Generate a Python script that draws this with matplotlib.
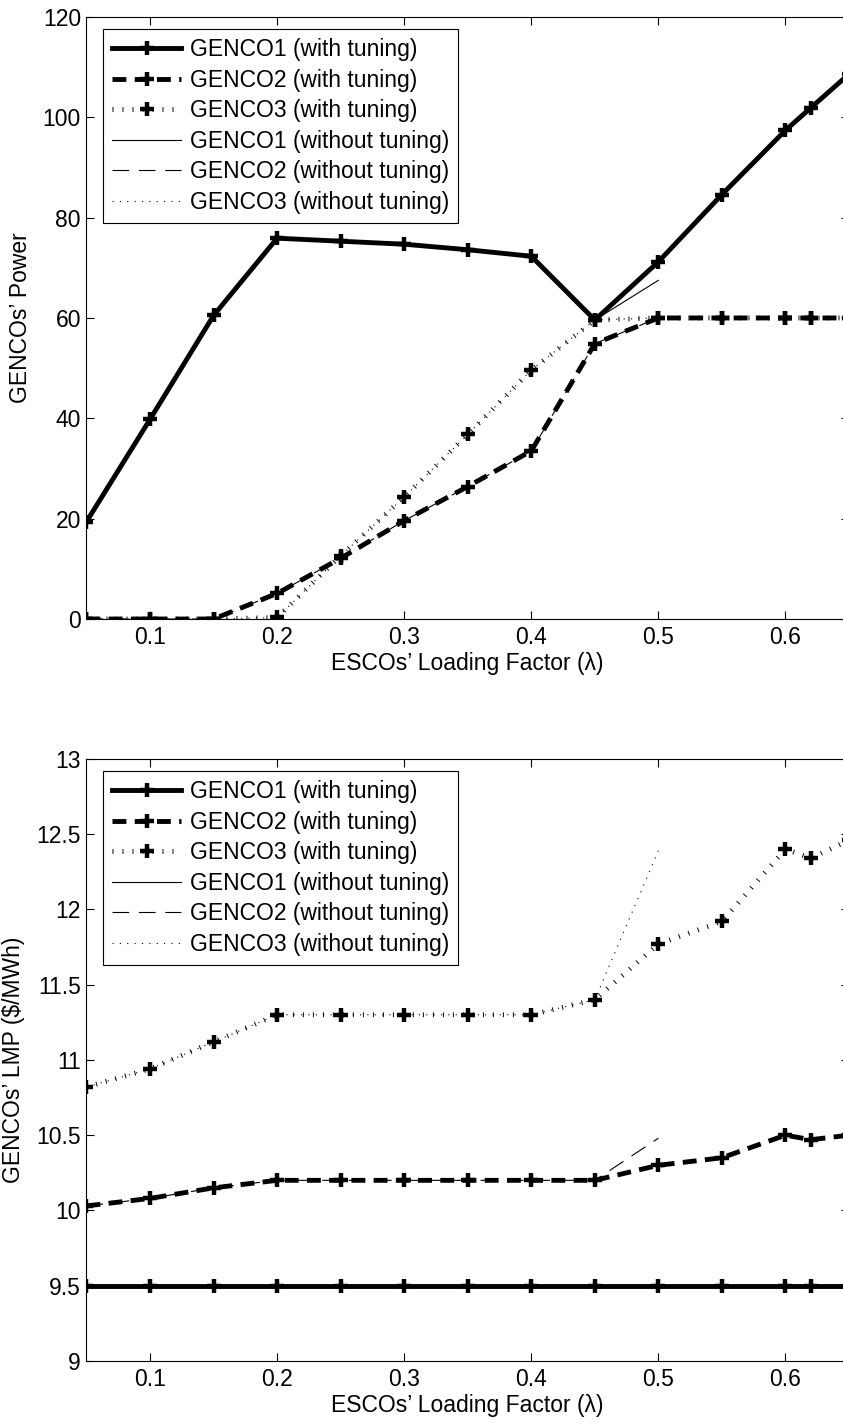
import numpy as np
import matplotlib
matplotlib.use("Agg")
import matplotlib.pyplot as plt
from matplotlib.ticker import FormatStrFormatter

plt.rcParams['font.family'] = ['Liberation Sans', 'DejaVu Sans']
plt.rcParams['font.size'] = 16.5
plt.rcParams['lines.scale_dashes'] = False

# loading factor (with tuning goes further than without tuning)
lam = [0.05, 0.1, 0.15, 0.2, 0.25, 0.3, 0.35, 0.4, 0.45, 0.5, 0.55, 0.6, 0.62, 0.65]
lam_wo = [0.05, 0.1, 0.15, 0.2, 0.25, 0.3, 0.35, 0.4, 0.45, 0.5]

# GENCOs' power, with tuning
p1 = [19.4, 39.8, 60.5, 75.9, 75.3, 74.7, 73.6, 72.3, 59.6, 71.2, 84.6, 97.4, 101.9, 108.6]
p2 = [0, 0, 0, 5.1, 12.1, 19.6, 26.4, 33.5, 54.9, 60, 60, 60, 60, 60]
p3 = [0, 0, 0, 0.3, 12.6, 24.3, 36.8, 49.6, 59.6, 60, 60, 60, 60, 60]
# GENCOs' power, without tuning
p1_wo = [19.4, 39.8, 60.5, 75.9, 75.3, 74.7, 73.6, 72.3, 59.6, 67.5]
p2_wo = [0, 0, 0, 5.1, 12.1, 19.6, 26.4, 33.5, 54.9, 60]
p3_wo = [0, 0, 0, 0.3, 12.6, 24.3, 36.8, 49.6, 59.6, 60]

# GENCOs' LMP, with tuning
l1 = [9.5, 9.5, 9.5, 9.5, 9.5, 9.5, 9.5, 9.5, 9.5, 9.5, 9.5, 9.5, 9.5, 9.5]
l2 = [10.03, 10.08, 10.15, 10.2, 10.2, 10.2, 10.2, 10.2, 10.2, 10.3, 10.35, 10.5, 10.47, 10.5]
l3 = [10.82, 10.94, 11.12, 11.3, 11.3, 11.3, 11.3, 11.3, 11.4, 11.77, 11.92, 12.4, 12.34, 12.46]
# GENCOs' LMP, without tuning
l1_wo = [9.5, 9.5, 9.5, 9.5, 9.5, 9.5, 9.5, 9.5, 9.5, 9.5]
l2_wo = [10.03, 10.08, 10.15, 10.2, 10.2, 10.2, 10.2, 10.2, 10.2, 10.48]
l3_wo = [10.82, 10.94, 11.12, 11.3, 11.3, 11.3, 11.3, 11.3, 11.4, 12.39]

labels = ["GENCO1 (with tuning)", "GENCO2 (with tuning)", "GENCO3 (with tuning)",
          "GENCO1 (without tuning)", "GENCO2 (without tuning)", "GENCO3 (without tuning)"]

thick = dict(color='k', lw=3.5, marker='+', ms=10, mew=3.2, zorder=3)
thin = dict(color='k', lw=0.8, zorder=2)


def draw(ax, w, wo, ylim, yticks, ylabel):
    ax.plot(lam, w[0], ls='-', label=labels[0], **thick)
    ax.plot(lam, w[1], ls=(0, (10, 6)), label=labels[1], **thick)
    ax.plot(lam, w[2], ls=(0, (0.7, 6.5)), label=labels[2], **thick)
    ax.plot(lam_wo, wo[0], ls='-', label=labels[3], **thin)
    ax.plot(lam_wo, wo[1], ls=(0, (12, 7)), label=labels[4], **thin)
    ax.plot(lam_wo, wo[2], ls=(0, (0.8, 4.5)), label=labels[5], **thin)
    ax.set_xlim(0.05, 0.65)
    ax.set_ylim(*ylim)
    ax.set_xticks([0.1, 0.2, 0.3, 0.4, 0.5, 0.6])
    ax.set_yticks(yticks)
    ax.yaxis.set_major_formatter(FormatStrFormatter('%g'))
    ax.tick_params(direction='in', top=True, right=True, length=5.5, width=0.8)
    ax.tick_params(axis='x', pad=5)
    ax.tick_params(axis='y', pad=4)
    for s in ax.spines.values():
        s.set_linewidth(0.8)
    ax.set_xlabel("ESCOs\u2019 Loading Factor (\u03bb)", labelpad=2)
    ax.set_ylabel(ylabel, labelpad=8)
    leg = ax.legend(loc='upper left', bbox_to_anchor=(0.0216, 0.98), borderaxespad=0,
                    fancybox=False, framealpha=1, edgecolor='k', handlelength=3.0,
                    handletextpad=0.4, labelspacing=0.33, borderpad=0.4, fontsize=16.5)
    leg.get_frame().set_linewidth(0.8)


fig = plt.figure(figsize=(8.43, 14.23), dpi=100)
ax1 = fig.add_axes([0.1026, 0.565, 0.9045, 0.4231])
ax2 = fig.add_axes([0.1026, 0.0436, 0.9045, 0.4231])

draw(ax1, [p1, p2, p3], [p1_wo, p2_wo, p3_wo], (0, 120), np.arange(0, 121, 20), "GENCOs\u2019 Power")
draw(ax2, [l1, l2, l3], [l1_wo, l2_wo, l3_wo], (9, 13), np.arange(9, 13.01, 0.5), "GENCOs\u2019 LMP ($/MWh)")

fig.savefig("out.png", dpi=100)
